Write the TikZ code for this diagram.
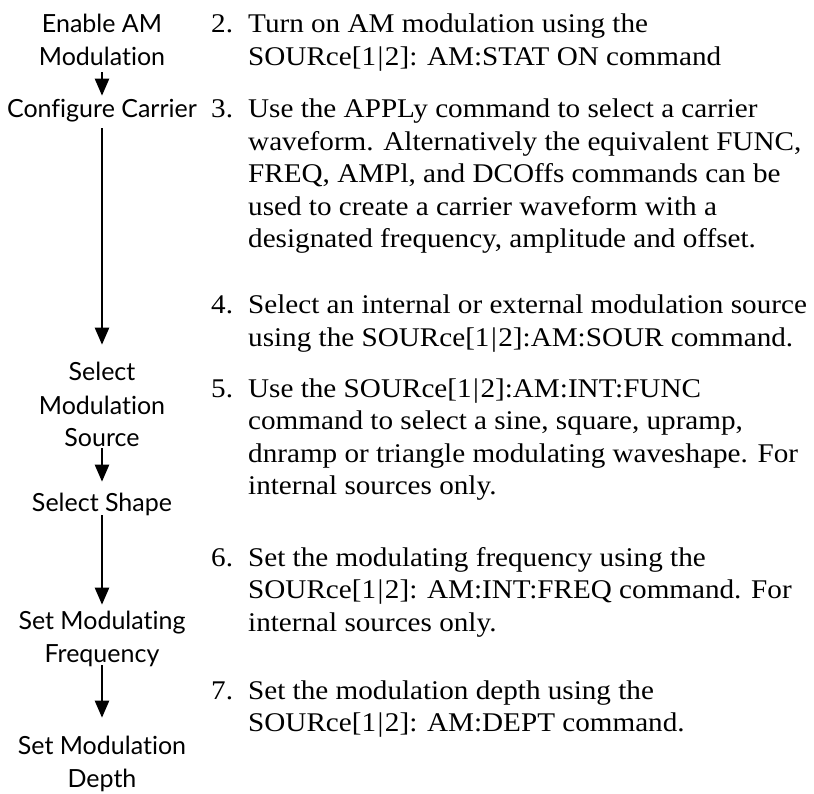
\documentclass[tikz,border=0pt]{standalone}
\usepackage{fontspec}
\setmainfont{Liberation Serif}[FakeStretch=1.08]
\newfontfamily\etiqfont{Lato}[Ligatures=NoCommon]
\usetikzlibrary{arrows.meta}
\newcommand{\unodos}{[1\kern1.5pt|\kern1.5pt2]}

\begin{document}
\begin{tikzpicture}[x=1pt,y=-1pt,
    etiq/.style={inner sep=0pt, anchor=base, font=\etiqfont\fontsize{25}{33}\selectfont},
    paso/.style={inner sep=0pt, anchor=base west, font=\fontsize{27}{32.5}\selectfont},
    flecha/.style={line width=2.4pt, -{Triangle[width=14pt,length=17pt]}}]
    \useasboundingbox (0,0) rectangle (814,794);

    % pasos a la izquierda
    \node[etiq] (am) at (102,33) {\begin{tabular}[t]{@{}c@{}}Enable AM\\Modulation\end{tabular}};
    \node[etiq] (carrier) at (102,118) {\begin{tabular}[t]{@{}c@{}}Configure Carrier\end{tabular}};
    \node[etiq] (source) at (102,381) {\begin{tabular}[t]{@{}c@{}}Select\\Modulation\\Source\end{tabular}};
    \node[etiq] (shape) at (102,511) {\begin{tabular}[t]{@{}c@{}}Select Shape\end{tabular}};
    \node[etiq] (freq) at (102,629) {\begin{tabular}[t]{@{}c@{}}Set Modulating\\Frequency\end{tabular}};
    \node[etiq] (depth) at (102,754) {\begin{tabular}[t]{@{}c@{}}Set Modulation\\Depth\end{tabular}};

    \draw[flecha, shorten <=-4pt, shorten >=-1pt] (am) -- (carrier);
    \draw[flecha, shorten >=13pt] (carrier) -- (source);
    \draw[flecha, shorten <=-9pt, shorten >=6pt] (source) -- (shape);
    \draw[flecha, shorten <=-6pt, shorten >=1pt] (shape) -- (freq);
    \draw[flecha, shorten <=-7pt, shorten >=13pt] (freq) -- (depth);

    % texto de cada paso
    \node[paso] (p2) at (211,33) {\begin{tabular}[t]{@{}p{37pt}@{}l@{}}2.&Turn on AM modulation using the\\
        &SOURce\unodos: AM:STAT ON command\end{tabular}};
    \node[paso] (p3) at (211,118) {\begin{tabular}[t]{@{}p{37pt}@{}l@{}}3.&Use the APPLy command to select a carrier\\
        &waveform. Alternatively the equivalent FUNC,\\
        &FREQ, AMPl, and DCOffs commands can be\\
        &used to create a carrier waveform with a\\
        &designated frequency, amplitude and offset.\end{tabular}};
    \node[paso] (p4) at (211,314) {\begin{tabular}[t]{@{}p{37pt}@{}l@{}}4.&Select an internal or external modulation source\\
        &using the SOURce\unodos:AM:SOUR command.\end{tabular}};
    \node[paso] (p5) at (211,397) {\begin{tabular}[t]{@{}p{37pt}@{}l@{}}5.&Use the SOURce\unodos:AM:INT:FUNC\\
        &command to select a sine, square, upramp,\\
        &dnramp or triangle modulating waveshape. For\\
        &internal sources only.\end{tabular}};
    \node[paso] (p6) at (211,566) {\begin{tabular}[t]{@{}p{37pt}@{}l@{}}6.&Set the modulating frequency using the\\
        &SOURce\unodos: AM:INT:FREQ command. For\\
        &internal sources only.\end{tabular}};
    \node[paso] (p7) at (211,699) {\begin{tabular}[t]{@{}p{37pt}@{}l@{}}7.&Set the modulation depth using the\\
        &SOURce\unodos: AM:DEPT command.\end{tabular}};
\end{tikzpicture}
\end{document}
